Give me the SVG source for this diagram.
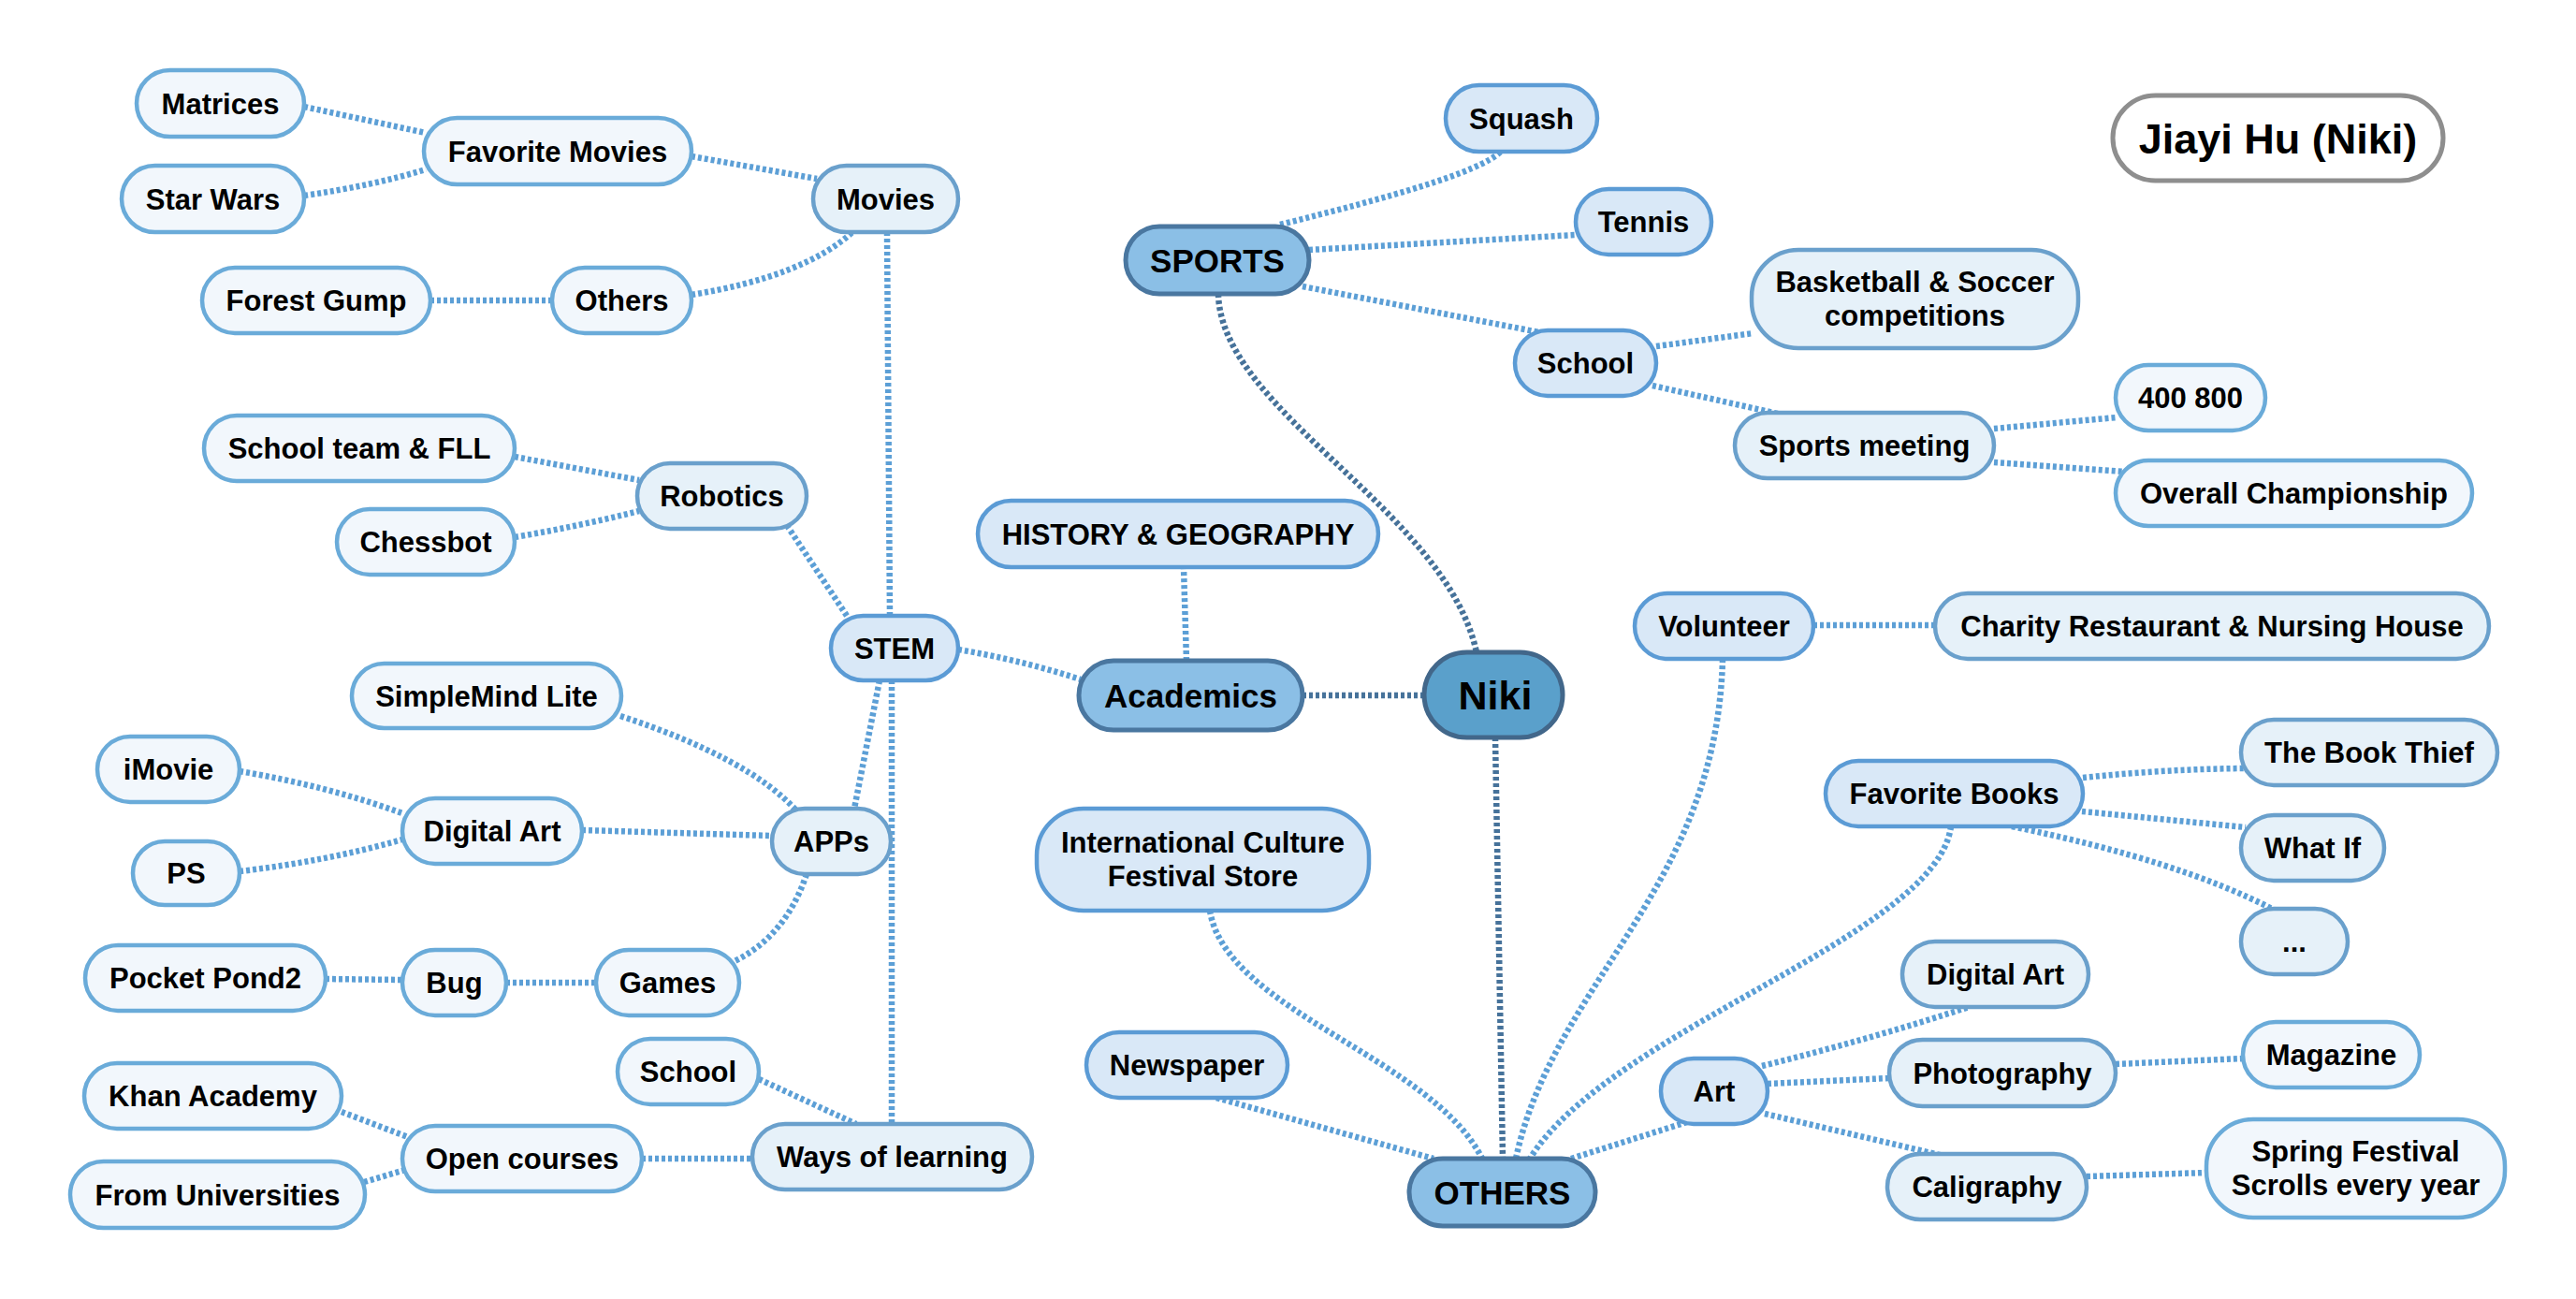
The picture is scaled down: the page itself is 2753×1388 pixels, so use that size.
<svg xmlns="http://www.w3.org/2000/svg" width="2753" height="1388" viewBox="0 0 2753 1388">
<style>
rect{stroke-width:4.5}
.n0{fill:#5aa0cb;stroke:#42678a;stroke-width:5}
.n1{fill:#8bbfe6;stroke:#4a77a0;stroke-width:5}
.n2{fill:#d9e8f7;stroke:#5b9bd5}
.n3{fill:#e6f1f9;stroke:#6aa0cc}
.n4{fill:#f2f7fc;stroke:#6aabd9}
.nt{fill:#ffffff;stroke:#8e8e8e;stroke-width:5}
text{font-family:"Liberation Sans",Arial,Helvetica,sans-serif;font-weight:bold;text-anchor:middle;fill:#000}
.t{font-size:31px}
.t1{font-size:35px}
.t0{font-size:43px}
.tt{font-size:45px}
.c{fill:none;stroke:#5c9fd6;stroke-width:6.5;stroke-dasharray:4 3}
.cr{fill:none;stroke:#46729a;stroke-width:6.5;stroke-dasharray:4 3}
</style>
<rect width="2753" height="1388" fill="#ffffff" stroke="none"/>
<g id="connectors">
<path class="cr" d="M1392,743 L1522,743"/>
<path class="cr" d="M1302,314 C1305,440 1545,545 1578,697"/>
<path class="cr" d="M1598,788 L1606,1238"/>
<path class="c" d="M1268,706 L1265,606"/>
<path class="c" d="M1024,694 Q1090,705 1155,726"/>
<path class="c" d="M951,658 L948,248"/>
<path class="c" d="M905,658 L842,563"/>
<path class="c" d="M940,727 L913,864"/>
<path class="c" d="M953,727 L953,1201"/>
<path class="c" d="M739,167 L873,191"/>
<path class="c" d="M739,315 Q860,295 911,248"/>
<path class="c" d="M325,114 L455,142"/>
<path class="c" d="M325,209 Q400,198 455,181"/>
<path class="c" d="M460,321 L590,321"/>
<path class="c" d="M550,488 L683,513"/>
<path class="c" d="M550,574 Q620,562 683,546"/>
<path class="c" d="M663,765 Q800,810 851,866"/>
<path class="c" d="M622,887 L825,893"/>
<path class="c" d="M256,824 Q350,840 430,869"/>
<path class="c" d="M256,931 Q350,920 430,897"/>
<path class="c" d="M862,934 Q840,1000 785,1027"/>
<path class="c" d="M541,1050 L637,1050"/>
<path class="c" d="M348,1046 L430,1047"/>
<path class="c" d="M811,1153 L915,1201"/>
<path class="c" d="M686,1238 L804,1238"/>
<path class="c" d="M365,1188 L436,1215"/>
<path class="c" d="M389,1263 L433,1250"/>
<path class="c" d="M1368,240 C1480,212 1580,185 1604,162"/>
<path class="c" d="M1399,267 L1684,251"/>
<path class="c" d="M1392,306 L1645,355"/>
<path class="c" d="M1770,370 L1874,356"/>
<path class="c" d="M1766,412 L1900,442"/>
<path class="c" d="M2131,458 L2262,446"/>
<path class="c" d="M2131,494 L2272,504"/>
<path class="c" d="M1841,704 C1835,950 1660,1050 1620,1238"/>
<path class="c" d="M1938,668 L2068,668"/>
<path class="c" d="M2085,883 C2070,1000 1720,1100 1635,1238"/>
<path class="c" d="M2226,831 Q2310,822 2398,821"/>
<path class="c" d="M2225,867 L2400,884"/>
<path class="c" d="M2150,883 Q2330,920 2430,972"/>
<path class="c" d="M1293,973 C1310,1080 1530,1130 1584,1238"/>
<path class="c" d="M1300,1173 L1532,1238"/>
<path class="c" d="M1679,1238 L1806,1198"/>
<path class="c" d="M1883,1139 Q2000,1110 2104,1076"/>
<path class="c" d="M1889,1158 L2019,1152"/>
<path class="c" d="M1886,1190 L2077,1235"/>
<path class="c" d="M2261,1137 L2397,1131"/>
<path class="c" d="M2230,1257 L2358,1253"/>
</g>
<g id="title"><rect class="nt" x="2258" y="102" width="353" height="91" rx="45.5"/><text class="tt" x="2434.5" y="163.5">Jiayi Hu (Niki)</text></g>
<g id="niki"><rect class="n0" x="1522" y="697" width="148" height="91" rx="45.5"/><text class="t0" x="1598" y="758">Niki</text></g>
<g id="sports"><rect class="n1" x="1203" y="242" width="196" height="72" rx="36"/><text class="t1" x="1301" y="290.6">SPORTS</text></g>
<g id="academics"><rect class="n1" x="1153" y="706" width="239" height="74" rx="37"/><text class="t1" x="1272.5" y="755.6">Academics</text></g>
<g id="others-main"><rect class="n1" x="1506" y="1238" width="199" height="72" rx="36"/><text class="t1" x="1605.5" y="1286.6">OTHERS</text></g>
<g id="squash"><rect class="n2" x="1545" y="91" width="162" height="71" rx="35.5"/><text class="t" x="1626" y="137.5">Squash</text></g>
<g id="tennis"><rect class="n2" x="1684" y="202" width="145" height="70" rx="35"/><text class="t" x="1756.5" y="248">Tennis</text></g>
<g id="school-sports"><rect class="n2" x="1619" y="353" width="151" height="70" rx="35"/><text class="t" x="1694.5" y="399">School</text></g>
<g id="history"><rect class="n2" x="1045" y="535" width="428" height="71" rx="35.5"/><text class="t" x="1259" y="581.5">HISTORY &amp; GEOGRAPHY</text></g>
<g id="stem"><rect class="n2" x="888" y="658" width="136" height="69" rx="34.5"/><text class="t" x="956" y="703.5">STEM</text></g>
<g id="volunteer"><rect class="n2" x="1747" y="634" width="191" height="70" rx="35"/><text class="t" x="1842.5" y="680">Volunteer</text></g>
<g id="favorite-books"><rect class="n2" x="1951" y="813" width="275" height="70" rx="35"/><text class="t" x="2088.5" y="859">Favorite Books</text></g>
<g id="intl-culture"><rect class="n2" x="1108" y="864" width="355" height="109" rx="50"/><text class="t" x="1285.5" y="910.5">International Culture</text><text class="t" x="1285.5" y="946.5">Festival Store</text></g>
<g id="newspaper"><rect class="n2" x="1161" y="1103" width="215" height="70" rx="35"/><text class="t" x="1268.5" y="1149">Newspaper</text></g>
<g id="art"><rect class="n2" x="1775" y="1131" width="114" height="70" rx="35"/><text class="t" x="1832" y="1177">Art</text></g>
<g id="basketball"><rect class="n3" x="1872" y="267" width="349" height="105" rx="50"/><text class="t" x="2046.5" y="311.5">Basketball &amp; Soccer</text><text class="t" x="2046.5" y="347.5">competitions</text></g>
<g id="sports-meeting"><rect class="n3" x="1854" y="441" width="277" height="70" rx="35"/><text class="t" x="1992.5" y="487">Sports meeting</text></g>
<g id="movies"><rect class="n3" x="869" y="177" width="155" height="71" rx="35.5"/><text class="t" x="946.5" y="223.5">Movies</text></g>
<g id="robotics"><rect class="n3" x="681" y="495" width="181" height="70" rx="35"/><text class="t" x="771.5" y="541">Robotics</text></g>
<g id="apps"><rect class="n3" x="825" y="864" width="127" height="70" rx="35"/><text class="t" x="888.5" y="910">APPs</text></g>
<g id="ways"><rect class="n3" x="804" y="1201" width="299" height="70" rx="35"/><text class="t" x="953.5" y="1247">Ways of learning</text></g>
<g id="charity"><rect class="n3" x="2068" y="634" width="592" height="70" rx="35"/><text class="t" x="2364" y="680">Charity Restaurant &amp; Nursing House</text></g>
<g id="book-thief"><rect class="n3" x="2395" y="769" width="274" height="70" rx="35"/><text class="t" x="2532" y="815">The Book Thief</text></g>
<g id="what-if"><rect class="n3" x="2395" y="871" width="153" height="70" rx="35"/><text class="t" x="2471.5" y="917">What If</text></g>
<g id="more-books"><rect class="n3" x="2395" y="971" width="114" height="70" rx="35"/><text class="t" x="2452" y="1017">...</text></g>
<g id="digital-art-r"><rect class="n3" x="2033" y="1006" width="199" height="70" rx="35"/><text class="t" x="2132.5" y="1052">Digital Art</text></g>
<g id="photography"><rect class="n3" x="2019" y="1111" width="242" height="71" rx="35.5"/><text class="t" x="2140" y="1157.5">Photography</text></g>
<g id="caligraphy"><rect class="n3" x="2017" y="1233" width="213" height="70" rx="35"/><text class="t" x="2123.5" y="1279">Caligraphy</text></g>
<g id="favorite-movies"><rect class="n4" x="453" y="126" width="286" height="71" rx="35.5"/><text class="t" x="596" y="172.5">Favorite Movies</text></g>
<g id="others-movies"><rect class="n4" x="590" y="286" width="149" height="70" rx="35"/><text class="t" x="664.5" y="332">Others</text></g>
<g id="school-team"><rect class="n4" x="218" y="444" width="332" height="70" rx="35"/><text class="t" x="384" y="490">School team &amp; FLL</text></g>
<g id="chessbot"><rect class="n4" x="360" y="544" width="190" height="70" rx="35"/><text class="t" x="455" y="590">Chessbot</text></g>
<g id="simplemind"><rect class="n4" x="376" y="709" width="288" height="69" rx="34.5"/><text class="t" x="520" y="754.5">SimpleMind Lite</text></g>
<g id="digital-art-l"><rect class="n4" x="430" y="853" width="192" height="70" rx="35"/><text class="t" x="526" y="899">Digital Art</text></g>
<g id="games"><rect class="n4" x="637" y="1015" width="153" height="70" rx="35"/><text class="t" x="713.5" y="1061">Games</text></g>
<g id="school-learning"><rect class="n4" x="660" y="1110" width="151" height="70" rx="35"/><text class="t" x="735.5" y="1156">School</text></g>
<g id="open-courses"><rect class="n4" x="430" y="1203" width="256" height="70" rx="35"/><text class="t" x="558" y="1249">Open courses</text></g>
<g id="n400-800"><rect class="n4" x="2261" y="390" width="160" height="70" rx="35"/><text class="t" x="2341" y="436">400 800</text></g>
<g id="overall"><rect class="n4" x="2261" y="492" width="381" height="70" rx="35"/><text class="t" x="2451.5" y="538">Overall Championship</text></g>
<g id="magazine"><rect class="n4" x="2397" y="1092" width="189" height="70" rx="35"/><text class="t" x="2491.5" y="1138">Magazine</text></g>
<g id="spring"><rect class="n4" x="2358" y="1196" width="319" height="105" rx="50"/><text class="t" x="2517.5" y="1240.5">Spring Festival</text><text class="t" x="2517.5" y="1276.5">Scrolls every year</text></g>
<g id="matrices"><rect class="n4" x="146" y="75" width="179" height="71" rx="35.5"/><text class="t" x="235.5" y="121.5">Matrices</text></g>
<g id="star-wars"><rect class="n4" x="130" y="177" width="195" height="71" rx="35.5"/><text class="t" x="227.5" y="223.5">Star Wars</text></g>
<g id="forest-gump"><rect class="n4" x="216" y="286" width="244" height="70" rx="35"/><text class="t" x="338" y="332">Forest Gump</text></g>
<g id="imovie"><rect class="n4" x="104" y="787" width="152" height="70" rx="35"/><text class="t" x="180" y="833">iMovie</text></g>
<g id="ps"><rect class="n4" x="142" y="899" width="114" height="68" rx="34"/><text class="t" x="199" y="944">PS</text></g>
<g id="bug"><rect class="n4" x="430" y="1015" width="111" height="70" rx="35"/><text class="t" x="485.5" y="1061">Bug</text></g>
<g id="pocket-pond"><rect class="n4" x="91" y="1010" width="257" height="70" rx="35"/><text class="t" x="219.5" y="1056">Pocket Pond2</text></g>
<g id="khan"><rect class="n4" x="90" y="1136" width="275" height="70" rx="35"/><text class="t" x="227.5" y="1182">Khan Academy</text></g>
<g id="from-universities"><rect class="n4" x="75" y="1241" width="315" height="71" rx="35.5"/><text class="t" x="232.5" y="1287.5">From Universities</text></g>
</svg>
